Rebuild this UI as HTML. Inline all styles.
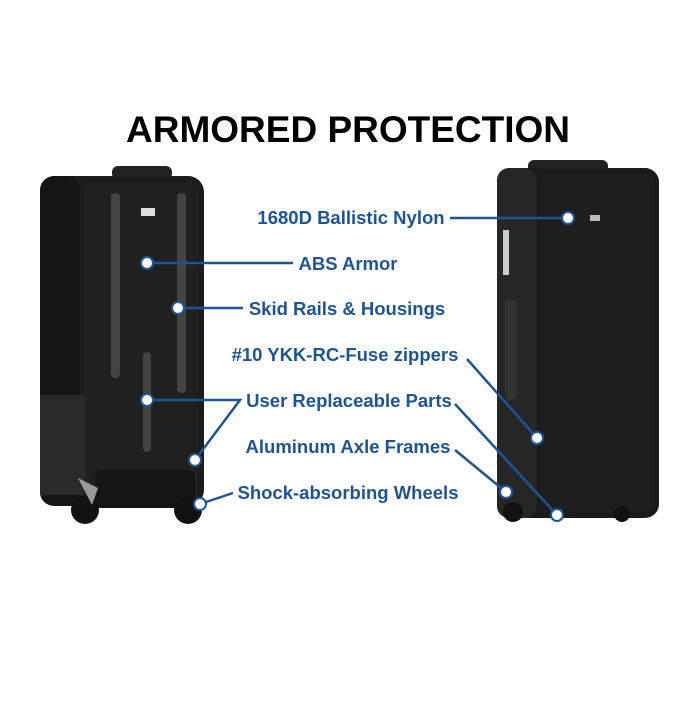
<!DOCTYPE html><html><head><style>body{margin:0;background:#fff;width:700px;height:700px;overflow:hidden}</style></head><body>
<svg width="700" height="700" xmlns="http://www.w3.org/2000/svg" font-family="Liberation Sans, sans-serif">
<text x="348" y="142" text-anchor="middle" font-size="37" font-weight="bold" fill="#000">ARMORED PROTECTION</text>
<!-- left case -->
<rect x="112" y="166" width="60" height="14" rx="6" fill="#222"/>
<rect x="40" y="176" width="164" height="330" rx="16" fill="#1c1c1c"/>
<rect x="40" y="176" width="40" height="330" rx="14" fill="#141414"/>
<rect x="84" y="182" width="114" height="320" rx="8" fill="#202020"/>
<rect x="40" y="395" width="45" height="100" fill="#2a2a2a"/>
<rect x="111" y="193" width="9" height="185" rx="4" fill="#444"/>
<rect x="177" y="193" width="9" height="200" rx="4" fill="#444"/>
<rect x="143" y="352" width="8" height="100" rx="4" fill="#444"/>
<rect x="141" y="208" width="14" height="8" fill="#ddd"/>
<rect x="95" y="470" width="100" height="38" rx="6" fill="#151515"/>
<circle cx="85" cy="510" r="14" fill="#111"/><circle cx="188" cy="510" r="14" fill="#111"/>
<path d="M78 478 L98 488 L92 505Z" fill="#999"/>
<!-- right case -->
<rect x="528" y="160" width="80" height="14" rx="6" fill="#222"/>
<rect x="497" y="168" width="162" height="350" rx="14" fill="#1a1a1a"/>
<rect x="497" y="168" width="40" height="350" rx="12" fill="#262626"/>
<rect x="540" y="174" width="114" height="338" rx="6" fill="#1e1e1e"/>
<rect x="505" y="300" width="12" height="100" rx="5" fill="#333"/>
<rect x="503" y="230" width="6" height="45" fill="#ccc"/>
<rect x="590" y="215" width="10" height="6" fill="#bbb"/>
<circle cx="513" cy="512" r="10" fill="#111"/><circle cx="622" cy="514" r="8" fill="#111"/>
<g fill="#1f5494" font-size="18.5" font-weight="bold" text-anchor="middle">
<text x="351" y="224">1680D Ballistic Nylon</text>
<text x="348" y="270">ABS Armor</text>
<text x="347" y="315">Skid Rails &amp; Housings</text>
<text x="345" y="361">#10 YKK-RC-Fuse zippers</text>
<text x="349" y="407">User Replaceable Parts</text>
<text x="348" y="453">Aluminum Axle Frames</text>
<text x="348" y="499">Shock-absorbing Wheels</text>
</g>
<g stroke="#1f5494" stroke-width="2.5" fill="none">
<line x1="450" y1="218" x2="568" y2="218"/>
<line x1="147" y1="263" x2="293" y2="263"/>
<line x1="178" y1="308" x2="243" y2="308"/>
<line x1="467" y1="359" x2="537" y2="438"/>
<polyline points="147,400 240,400 195,460"/>
<line x1="455" y1="404" x2="557" y2="515"/>
<line x1="455" y1="450" x2="506" y2="492"/>
<line x1="233" y1="493" x2="200" y2="504"/>
</g>
<g fill="#fff" stroke="#1f5494" stroke-width="2">
<circle cx="568" cy="218" r="6"/><circle cx="147" cy="263" r="6"/><circle cx="178" cy="308" r="6"/>
<circle cx="147" cy="400" r="6"/><circle cx="195" cy="460" r="6"/><circle cx="200" cy="504" r="6"/>
<circle cx="537" cy="438" r="6"/><circle cx="506" cy="492" r="6"/><circle cx="557" cy="515" r="6"/>
</g>
</svg>
</body></html>
